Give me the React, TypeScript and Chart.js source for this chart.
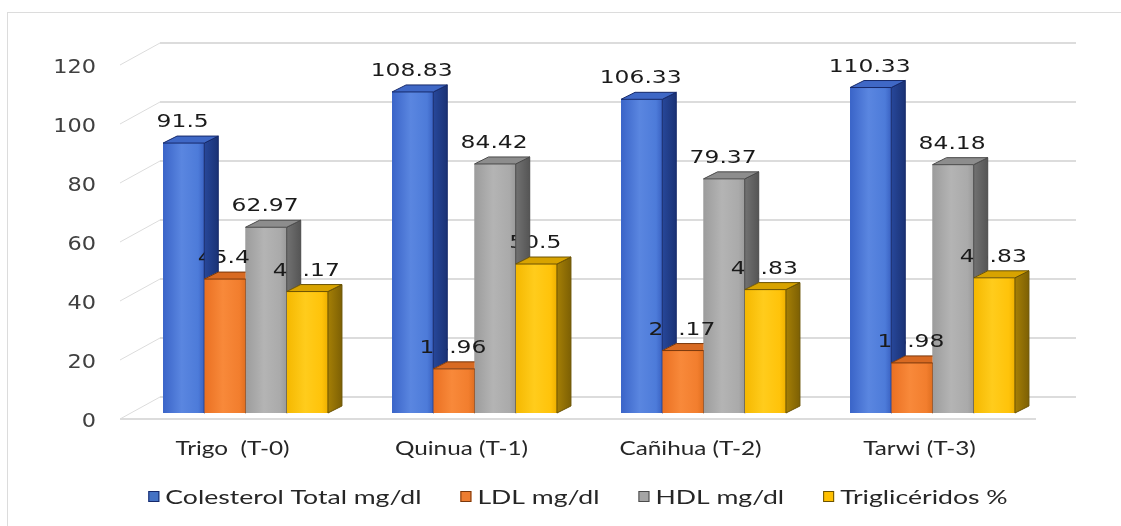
import { useEffect, useRef } from "react";
import { Chart, registerables } from "chart.js";

Chart.register(...registerables);

// ---- data ----
const categories = ["Trigo  (T-0)", "Quinua (T-1)", "Cañihua (T-2)", "Tarwi (T-3)"];
const colesterolTotal = [91.5, 108.83, 106.33, 110.33];
const ldl = [45.4, 14.96, 21.17, 16.98];
const hdl = [62.97, 84.42, 79.37, 84.18];
const trigliceridos = [41.17, 50.5, 41.83, 45.83];
const seriesNames = ["Colesterol Total mg/dl", "LDL mg/dl", "HDL mg/dl", "Triglicéridos %"];
const yTicks = [0, 20, 40, 60, 80, 100, 120];

// ---- styling ----
type Shade = { base: string; front: string[]; side: string; sideDark: string; top: string; edge: string };
const shades: Shade[] = [
  { base: "#4472c4", front: ["#3a64c8", "#5a86e0", "#4d7bd9", "#3a62c2"], side: "#27479a", sideDark: "#1a3275", top: "#3f68c6", edge: "#16296a" },
  { base: "#ed7d31", front: ["#ea7022", "#f8893a", "#f27e2e", "#e06f20"], side: "#b5581a", sideDark: "#8f4210", top: "#d86a22", edge: "#7a380c" },
  { base: "#a5a5a5", front: ["#9c9c9c", "#b4b4b4", "#aaaaaa", "#9a9a9a"], side: "#727272", sideDark: "#555555", top: "#8d8d8d", edge: "#4a4a4a" },
  { base: "#ffc000", front: ["#f5b800", "#ffcc1c", "#ffc30a", "#eeb000"], side: "#a57f06", sideDark: "#7d6004", top: "#d8a300", edge: "#6a5203" },
];

// oblique projection offsets, relative to the plane of the bar fronts
const FRONT = { dx: -11, dy: 6 };
const BACK = { dx: 29, dy: -16 };
const DEPTH = { dx: 14, dy: -7 };

const GRID = "#dcdcdc";
const TEXT = "#262626";
const SX = 1.3; // horizontal stretch of the label lettering

function wideText(
  ctx: CanvasRenderingContext2D,
  text: string,
  x: number,
  y: number,
  align: "left" | "center" | "right",
  sx: number
) {
  const w = ctx.measureText(text).width * sx;
  const left = align === "left" ? x : align === "center" ? x - w / 2 : x - w;
  ctx.save();
  ctx.translate(left, y);
  ctx.scale(sx, 1);
  ctx.textAlign = "left";
  ctx.fillText(text, 0, 0);
  ctx.restore();
  return w;
}

function path(ctx: CanvasRenderingContext2D, pts: number[][]) {
  ctx.moveTo(pts[0][0], pts[0][1]);
  for (let i = 1; i < pts.length; i++) ctx.lineTo(pts[i][0], pts[i][1]);
  ctx.closePath();
}

function poly(ctx: CanvasRenderingContext2D, pts: number[][], fill: string | CanvasGradient, stroke?: string) {
  ctx.beginPath();
  path(ctx, pts);
  ctx.fillStyle = fill;
  ctx.fill();
  if (stroke) {
    ctx.strokeStyle = stroke;
    ctx.lineWidth = 1;
    ctx.stroke();
  }
}

type BarProps = { x: number; y: number; base: number; width: number };

function barBox(chart: Chart, d: number, i: number) {
  const p = chart.getDatasetMeta(d).data[i].getProps(["x", "y", "base", "width"], true) as unknown as BarProps;
  return { x0: p.x - p.width / 2, x1: p.x + p.width / 2, cx: p.x, top: p.y, base: p.base };
}

// outline of a whole bar block as seen in the projection
function silhouette(b: { x0: number; x1: number; top: number; base: number }) {
  return [
    [b.x0, b.top],
    [b.x0 + DEPTH.dx, b.top + DEPTH.dy],
    [b.x1 + DEPTH.dx, b.top + DEPTH.dy],
    [b.x1 + DEPTH.dx, b.base + DEPTH.dy],
    [b.x1, b.base],
    [b.x0, b.base],
  ];
}

const bars3d = {
  id: "bars3d",
  beforeDraw(chart: Chart) {
    const ctx = chart.ctx;
    ctx.save();
    ctx.strokeStyle = GRID;
    ctx.lineWidth = 1;
    ctx.strokeRect(7.5, 12.5, chart.width + 20, chart.height + 20);
    ctx.restore();
  },
  beforeDatasetsDraw(chart: Chart) {
    const ctx = chart.ctx;
    const { left, right } = chart.chartArea;
    const y = chart.scales.y;
    const x = chart.scales.x;
    ctx.save();

    // back wall and left wall grid
    for (const v of yTicks) {
      const py = y.getPixelForValue(v);
      ctx.strokeStyle = GRID;
      ctx.lineWidth = 2;
      ctx.beginPath();
      ctx.moveTo(left + BACK.dx, py + BACK.dy);
      ctx.lineTo(right + BACK.dx, py + BACK.dy);
      ctx.stroke();
      ctx.lineWidth = 1;
      ctx.beginPath();
      ctx.moveTo(left + FRONT.dx, py + FRONT.dy);
      ctx.lineTo(left + BACK.dx, py + BACK.dy);
      ctx.stroke();
    }
    // front edge of the floor
    const y0 = y.getPixelForValue(0);
    ctx.strokeStyle = GRID;
    ctx.lineWidth = 2;
    ctx.beginPath();
    ctx.moveTo(left + FRONT.dx, y0 + FRONT.dy);
    ctx.lineTo(right + FRONT.dx, y0 + FRONT.dy);
    ctx.stroke();

    // value axis labels
    ctx.fillStyle = "#404040";
    ctx.font = "20px 'DejaVu Sans'";
    ctx.textBaseline = "middle";
    for (const v of yTicks) {
      const py = y.getPixelForValue(v) + FRONT.dy + 3;
      wideText(ctx, String(v), left + FRONT.dx - 24, py, "right", 1.12);
    }

    // category labels
    ctx.fillStyle = TEXT;
    ctx.font = "19px Lato";
    ctx.textBaseline = "alphabetic";
    categories.forEach((c, i) => {
      wideText(ctx, c, x.getPixelForValue(i) + FRONT.dx - 2, 455, "center", 1.28);
    });
    ctx.restore();
  },
  afterDatasetsDraw(chart: Chart) {
    const ctx = chart.ctx;
    const n = categories.length;
    const nd = chart.data.datasets.length;
    ctx.save();

    // shaded front faces
    for (let d = 0; d < nd; d++) {
      for (let i = 0; i < n; i++) {
        const b = barBox(chart, d, i);
        const s = shades[d];
        const fg = ctx.createLinearGradient(b.x0, 0, b.x1, 0);
        fg.addColorStop(0, s.front[0]);
        fg.addColorStop(0.45, s.front[1]);
        fg.addColorStop(0.85, s.front[2]);
        fg.addColorStop(1, s.front[3]);
        ctx.fillStyle = fg;
        ctx.fillRect(b.x0, b.top, b.x1 - b.x0, b.base - b.top);
      }
    }

    // value labels
    ctx.fillStyle = "#1a1a1a";
    ctx.font = "18px 'DejaVu Sans'";
    ctx.textBaseline = "alphabetic";
    chart.data.datasets.forEach((ds, d) => {
      for (let i = 0; i < n; i++) {
        const b = barBox(chart, d, i);
        wideText(ctx, String((ds.data as number[])[i]), b.cx - 1, b.top - 16, "center", SX);
      }
    });

    // top and side faces, hidden where the next bar of the group stands in front
    for (let i = 0; i < n; i++) {
      for (let d = 0; d < nd; d++) {
        const b = barBox(chart, d, i);
        const s = shades[d];
        ctx.save();
        if (d + 1 < nd) {
          const nb = barBox(chart, d + 1, i);
          ctx.beginPath();
          ctx.rect(0, 0, chart.width, chart.height);
          path(ctx, silhouette(nb));
          ctx.clip("evenodd");
        }
        const sg = ctx.createLinearGradient(b.x1, 0, b.x1 + DEPTH.dx, 0);
        sg.addColorStop(0, s.side);
        sg.addColorStop(1, s.sideDark);
        poly(ctx, [[b.x1, b.top], [b.x1 + DEPTH.dx, b.top + DEPTH.dy], [b.x1 + DEPTH.dx, b.base + DEPTH.dy], [b.x1, b.base]], sg, s.edge);
        poly(ctx, [[b.x0, b.top], [b.x1, b.top], [b.x1 + DEPTH.dx, b.top + DEPTH.dy], [b.x0 + DEPTH.dx, b.top + DEPTH.dy]], s.top, s.edge);
        ctx.restore();
      }
    }
    ctx.restore();
  },
  afterDraw(chart: Chart) {
    const ctx = chart.ctx;
    const { left, right } = chart.chartArea;
    ctx.save();
    ctx.font = "20px Lato";
    ctx.textBaseline = "alphabetic";
    const sx = 1.33;
    const box = 11;
    const gapBox = 6;
    const gapItem = 39;
    const widths = seriesNames.map((t) => ctx.measureText(t).width * sx);
    const total = widths.reduce((a, b) => a + b, 0) + seriesNames.length * (box + gapBox) + gapItem * (seriesNames.length - 1);
    let cx = (left + right) / 2 + FRONT.dx - total / 2;
    const baseline = 504;
    seriesNames.forEach((t, i) => {
      ctx.fillStyle = shades[i].base;
      ctx.fillRect(cx, baseline - 13, box, box);
      ctx.strokeStyle = shades[i].edge;
      ctx.lineWidth = 1;
      ctx.strokeRect(cx + 0.5, baseline - 12.5, box - 1, box - 1);
      cx += box + gapBox;
      ctx.fillStyle = TEXT;
      wideText(ctx, t, cx, baseline, "left", sx);
      cx += widths[i] + gapItem;
    });
    ctx.restore();
  },
};

export default function App() {
  const ref = useRef<HTMLCanvasElement | null>(null);

  useEffect(() => {
    if (!ref.current) return;
    const series = [colesterolTotal, ldl, hdl, trigliceridos];
    const chart = new Chart(ref.current, {
      type: "bar",
      data: {
        labels: categories,
        datasets: series.map((values, i) => ({
          label: seriesNames[i],
          data: values,
          backgroundColor: shades[i].base,
          borderWidth: 0,
          categoryPercentage: 0.72,
          barPercentage: 1,
        })),
      },
      options: {
        responsive: false,
        animation: false,
        devicePixelRatio: 1,
        layout: { padding: { left: 131, right: 74, top: 59, bottom: 113 } },
        plugins: { legend: { display: false }, tooltip: { enabled: false } },
        scales: {
          x: { display: false },
          y: { display: false, min: 0, max: 120 },
        },
      },
      plugins: [bars3d],
    });
    return () => chart.destroy();
  }, []);

  return (
    <div style={{ position: "fixed", left: 0, top: 0, width: 1121, height: 526, background: "#fff" }}>
      <canvas ref={ref} width={1121} height={526} />
    </div>
  );
}
